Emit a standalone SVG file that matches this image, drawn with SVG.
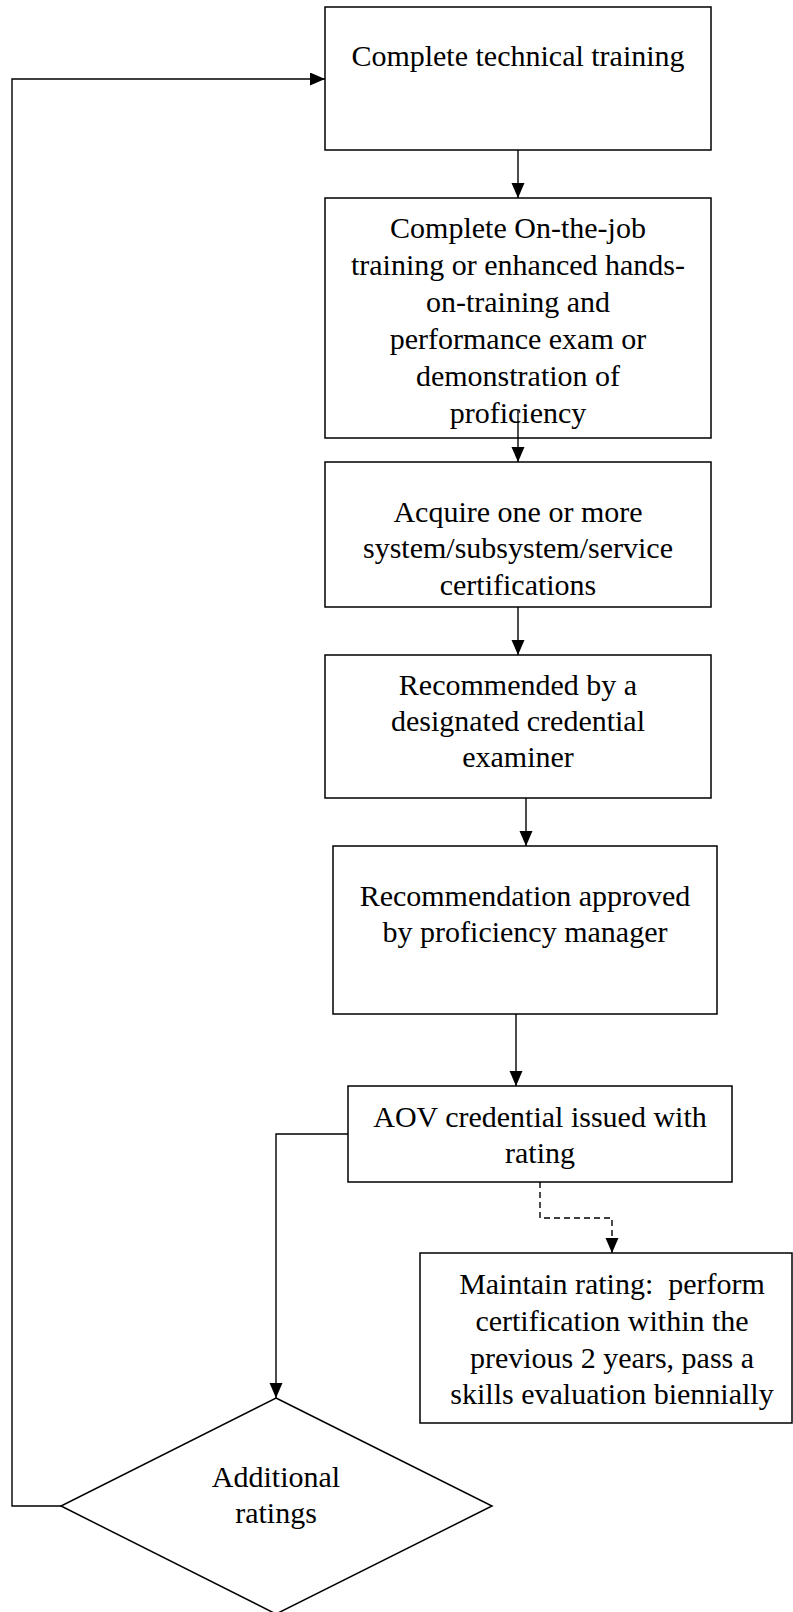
<svg xmlns="http://www.w3.org/2000/svg" width="793" height="1612" viewBox="0 0 793 1612">
<style>
.box{fill:#fff;stroke:#000;stroke-width:1.5}
.t{font-family:"Liberation Serif","Times New Roman",serif;font-size:30px;fill:#000;text-anchor:middle}
.c{fill:none;stroke:#000;stroke-width:1.4}
.d{fill:none;stroke:#000;stroke-width:1.4;stroke-dasharray:6,4}
</style>
<defs>
<marker id="ah" markerUnits="userSpaceOnUse" markerWidth="16" markerHeight="14" refX="15" refY="6.5" orient="auto">
<path d="M0,0 L15,6.5 L0,13 z" fill="#000"/>
</marker>
</defs>
<rect width="793" height="1612" fill="#fff"/>
<g id="n1"><rect class="box" x="325" y="7" width="386" height="143"/>
<text class="t" x="518" y="66">Complete technical training</text></g>
<g id="n2"><rect class="box" x="325" y="198" width="386" height="240"/>
<text class="t"><tspan x="518" y="238">Complete On-the-job</tspan><tspan x="518" y="275">training or enhanced hands-</tspan><tspan x="518" y="312">on-training and</tspan><tspan x="518" y="349">performance exam or</tspan><tspan x="518" y="386">demonstration of</tspan><tspan x="518" y="423">proficiency</tspan></text></g>
<g id="n3"><rect class="box" x="325" y="462" width="386" height="145"/>
<text class="t"><tspan x="518" y="522">Acquire one or more</tspan><tspan x="518" y="558">system/subsystem/service</tspan><tspan x="518" y="595">certifications</tspan></text></g>
<g id="n4"><rect class="box" x="325" y="655" width="386" height="143"/>
<text class="t"><tspan x="518" y="695">Recommended by a</tspan><tspan x="518" y="731">designated credential</tspan><tspan x="518" y="767">examiner</tspan></text></g>
<g id="n5"><rect class="box" x="333" y="846" width="384" height="168"/>
<text class="t"><tspan x="525" y="906">Recommendation approved</tspan><tspan x="525" y="942">by proficiency manager</tspan></text></g>
<g id="n6"><rect class="box" x="348" y="1086" width="384" height="96"/>
<text class="t"><tspan x="540" y="1127">AOV credential issued with</tspan><tspan x="540" y="1163">rating</tspan></text></g>
<g id="n7"><rect class="box" x="420" y="1253" width="372" height="170"/>
<text class="t"><tspan x="612" y="1294">Maintain rating:&#160; perform</tspan><tspan x="612" y="1331">certification within the</tspan><tspan x="612" y="1368">previous 2 years, pass a</tspan><tspan x="612" y="1404">skills evaluation biennially</tspan></text></g>
<g id="n8"><path class="box" d="M276,1398 L492,1506 L276,1614 L61,1506 Z"/>
<text class="t"><tspan x="276" y="1487">Additional</tspan><tspan x="276" y="1523">ratings</tspan></text></g>
<g id="connectors">
<path class="c" d="M518,150 L518,198" marker-end="url(#ah)"/>
<path class="c" d="M518,410 L518,462" marker-end="url(#ah)"/>
<path class="c" d="M518,607 L518,655" marker-end="url(#ah)"/>
<path class="c" d="M526,798 L526,846" marker-end="url(#ah)"/>
<path class="c" d="M516,1014 L516,1086" marker-end="url(#ah)"/>
<path class="c" d="M348,1134 L276,1134 L276,1398" marker-end="url(#ah)"/>
<path class="d" d="M540,1182 L540,1218 L612,1218 L612,1253" marker-end="url(#ah)"/>
<path class="c" d="M61,1506 L12,1506 L12,79 L325,79" marker-end="url(#ah)"/>
</g>
</svg>
